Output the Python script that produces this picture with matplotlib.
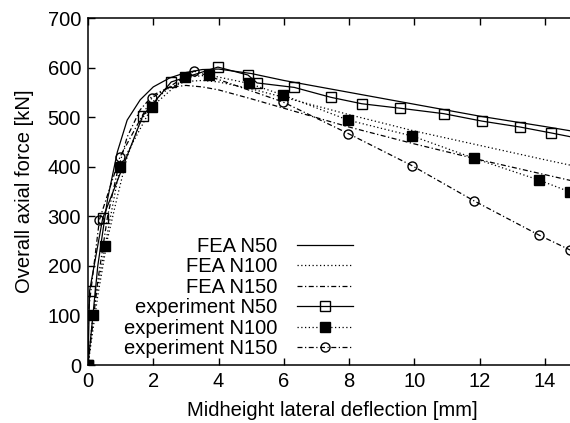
import matplotlib
matplotlib.use("Agg")
import matplotlib.pyplot as plt

plt.rcParams['font.family'] = ['Liberation Sans', 'DejaVu Sans']

# FEA curves
fea_x = [0, 0.3, 0.6, 0.9, 1.2, 1.6, 2.0, 2.5, 3.0, 3.5, 4.0, 5.0, 6.0, 8.0, 10.0, 12.0, 14.0, 15.0]
fea_n50 = [0, 200, 335, 430, 494, 535, 561, 579, 590, 596, 597, 588, 574, 550, 526, 502, 481, 470]
fea_n100 = [0, 140, 255, 340, 420, 490, 532, 560, 572, 574, 571, 557, 540, 505, 472, 443, 414, 400]
fea_n150 = [0, 170, 300, 390, 460, 515, 545, 560, 564, 561, 555, 537, 518, 480, 446, 414, 384, 369]

# Experiments
exp50_x = [0, 0.05, 0.45, 1.68, 2.55, 3.98, 4.9, 5.18, 6.32, 7.44, 8.39, 9.56, 10.9, 12.07, 13.24, 14.2, 15.2]
exp50_y = [0, 150, 296, 503, 571, 601, 585, 569, 560, 540, 527, 518, 507, 492, 480, 468, 455]

exp100_x = [0, 0.15, 0.52, 0.98, 1.96, 2.97, 3.7, 4.93, 5.96, 7.97, 9.93, 11.83, 13.82, 14.77]
exp100_y = [0, 101, 240, 400, 521, 580, 585, 568, 545, 494, 462, 417, 373, 349]

exp150_x = [0, 0.0, 0.35, 0.98, 1.96, 3.25, 5.96, 7.97, 9.93, 11.83, 13.82, 14.77]
exp150_y = [0, 101, 293, 420, 539, 593, 531, 467, 402, 331, 262, 232]

xticks = [0, 2, 4, 6, 8, 10, 12, 14]
yticks = [0, 100, 200, 300, 400, 500, 600, 700]

fs = 14.5

fig = plt.figure(figsize=(5.7, 4.23), dpi=100)
ax = fig.add_axes([88/570, 58/423, 489.6/570, 347/423])

lw = 0.9
ax.plot(fea_x, fea_n50, color='black', lw=lw, ls='-', label='FEA N50')
ax.plot(fea_x, fea_n100, color='black', lw=lw, ls=(0, (1, 2)), label='FEA N100')
ax.plot(fea_x, fea_n150, color='black', lw=lw, ls=(0, (4, 2, 1, 2)), label='FEA N150')
ax.plot(exp50_x, exp50_y, color='black', lw=lw, ls='-', marker='s', ms=7,
        mfc='none', mec='black', mew=1.0, label='experiment N50')
ax.plot(exp100_x, exp100_y, color='black', lw=lw, ls=(0, (1, 2)), marker='s', ms=7,
        mfc='black', mec='black', label='experiment N100')
ax.plot(exp150_x, exp150_y, color='black', lw=lw, ls=(0, (4, 2, 1, 2)), marker='o', ms=6.5,
        mfc='none', mec='black', mew=1.0, label='experiment N150')

ax.set_xlim(0, 15)
ax.set_ylim(0, 700)
ax.set_xticks(xticks)
ax.set_yticks(yticks)
ax.tick_params(direction='in', top=True, right=False, length=5, width=1, labelsize=fs, pad=5)
for s in ax.spines.values():
    s.set_linewidth(1.1)
ax.spines['right'].set_visible(False)

ax.set_xlabel('Midheight lateral deflection [mm]', fontsize=fs, labelpad=7)
ax.set_ylabel('Overall axial force [kN]', fontsize=fs, labelpad=10)

leg = ax.legend(loc='lower right', bbox_to_anchor=(0.541, 0.02), frameon=False, fontsize=fs,
                markerfirst=False, handlelength=2.75, handletextpad=1.0, labelspacing=0.07,
                borderaxespad=0.0, borderpad=0.0)
for col in leg._legend_handle_box.get_children():
    col.align = 'right'

fig.savefig('out.png', dpi=100)
